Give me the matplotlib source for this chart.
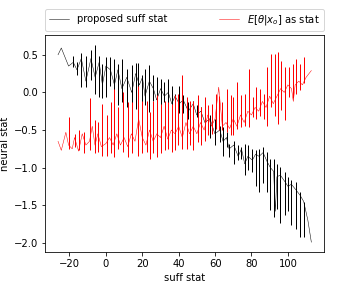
import numpy as np
import matplotlib
matplotlib.use('Agg')
import matplotlib.pyplot as plt

# thin trace of the proposed statistic
prop_x = [-26.3, -24.5, -20.5, -17.9, -15.9, -13.5, -11.0, -8.2, -5.9, -3.7, -1.9, 0.0,
          2.5, 4.7, 6.6, 8.8, 11.5, 14.2, 16.4, 18.4, 20.1, 21.5, 23.9, 26.1, 27.9, 30.1,
          32.1, 34.3, 36.2, 38.0, 40.3, 42.5, 45.3, 48.0, 49.9, 52.2, 54.4, 57.2, 59.9,
          62.6, 64.4, 66.3, 67.7, 70.3, 72.7, 74.5, 76.3, 78.0, 80.5, 82.3, 84.2, 86.4,
          88.6, 90.4, 92.2, 93.1, 94.0, 95.9, 98.2, 100.1, 101.9, 104.6, 106.8, 108.7,
          111.0, 112.9]
prop_y = [0.50, 0.59, 0.35, 0.40, 0.30, 0.45, 0.15, 0.45, 0.20, 0.40, 0.10, 0.35,
          0.30, 0.10, 0.30, 0.05, 0.20, 0.00, 0.25, 0.10, 0.20, -0.05, 0.15, 0.05, -0.10, 0.05,
          -0.05, 0.00, -0.15, -0.05, -0.15, -0.10, -0.25, -0.15, -0.30, -0.25, -0.40, -0.35, -0.55,
          -0.50, -0.65, -0.60, -0.75, -0.70, -0.85, -0.75, -0.95, -0.85, -0.90, -0.82, -0.85, -0.80,
          -0.92, -1.00, -1.05, -1.58, -1.12, -1.10, -1.18, -1.25, -1.22, -1.30, -1.37, -1.45,
          -1.70, -1.99]

# vertical spread of the proposed statistic
prop_sx = [-17.9, -15.9, -13.5, -11.0, -8.2, -5.9, -3.7, -1.9, 0.0, 2.5, 4.7, 6.6, 8.8,
           11.5, 14.2, 16.4, 17.9, 20.1, 21.5, 23.9, 26.1, 27.9, 30.1, 32.1, 34.3, 36.2,
           38.0, 40.3, 42.5, 45.3, 48.0, 49.9, 52.2, 54.4, 57.2, 59.9, 62.6, 64.4, 66.3,
           67.7, 70.3, 72.7, 74.5, 76.3, 78.0, 80.5, 82.3, 84.2, 86.4, 88.6, 90.4, 92.2,
           94.0, 95.9, 98.2, 100.1, 101.9, 104.6, 106.8, 108.7]
prop_lo = [0.34, 0.23, 0.07, 0.07, 0.16, -0.02, -0.06, -0.08, -0.06, 0.09, -0.04, -0.17, -0.13,
           -0.19, -0.15, -0.22, 0.00, -0.13, -0.17, -0.26, -0.11, -0.30, -0.17, -0.13, -0.19, -0.26,
           -0.22, -0.28, -0.28, -0.35, -0.24, -0.33, -0.53, -0.48, -0.61, -0.70, -0.66, -0.84, -0.73,
           -0.86, -0.95, -0.90, -0.88, -1.10, -1.03, -1.06, -1.25, -1.32, -1.21, -1.32, -1.56, -1.65,
           -1.55, -1.74, -1.63, -1.58, -1.76, -1.81, -1.92, -1.92]
prop_hi = [0.48, 0.41, 0.53, 0.49, 0.56, 0.63, 0.49, 0.38, 0.47, 0.47, 0.45, 0.38, 0.45,
           0.31, 0.36, 0.39, 0.39, 0.23, 0.31, 0.36, 0.23, 0.20, 0.18, 0.14, 0.18, 0.09,
           -0.02, 0.09, -0.04, -0.13, -0.11, -0.17, -0.19, -0.26, -0.30, -0.35, -0.44, -0.46, -0.53,
           -0.68, -0.64, -0.70, -0.72, -0.68, -0.70, -0.75, -0.77, -0.75, -0.72, -0.79, -0.88, -0.88,
           -0.95, -0.99, -1.06, -1.12, -1.17, -1.19, -1.32, -1.45]

# thin trace of E[theta|x_o]
post_x = [-26.3, -24.5, -22.0, -20.5, -18.5, -17.2, -15.0, -13.0, -11.0, -9.0, -7.5, -6.0,
          -4.4, -2.5, 0.0, 2.0, 4.0, 6.0, 8.0, 10.0, 12.0, 14.0, 16.0, 18.0, 20.0, 22.0,
          24.0, 26.0, 28.0, 30.0, 32.0, 34.0, 36.0, 38.0, 40.0, 42.0, 44.0, 46.0, 48.0,
          50.0, 52.0, 54.0, 56.0, 58.0, 60.0, 62.0, 64.0, 66.0, 68.0, 70.0, 72.0, 74.0,
          76.0, 78.0, 80.0, 82.0, 84.0, 86.0, 88.0, 90.0, 92.0, 94.0, 96.0, 98.0, 100.0,
          102.0, 103.0, 104.0, 106.0, 108.0, 110.0, 112.9]
post_y = [-0.65, -0.77, -0.53, -0.70, -0.75, -0.60, -0.78, -0.55, -0.70, -0.65, -0.45, -0.70,
          -0.55, -0.72, -0.68, -0.60, -0.70, -0.55, -0.70, -0.60, -0.72, -0.55, -0.65, -0.35, -0.60, -0.70,
          -0.50, -0.65, -0.55, -0.60, -0.45, -0.62, -0.50, -0.55, -0.45, -0.60, -0.40, -0.55, -0.45,
          -0.55, -0.40, -0.50, -0.30, -0.45, -0.35, 0.07, -0.45, -0.40, -0.48, -0.35, -0.45, -0.30,
          -0.40, -0.25, -0.30, -0.20, -0.25, -0.12, -0.20, -0.05, -0.15, -0.05, 0.05, 0.00, 0.10,
          0.05, -0.12, 0.10, 0.15, 0.10, 0.20, 0.29]

# vertical spread of E[theta|x_o]
post_sx = [-20.5, -17.2, -14.5, -12.3, -8.6, -6.2, -4.4, -1.9, 0.5, 2.7, 4.7, 6.9, 9.6,
           12.0, 14.6, 17.5, 20.1, 22.4, 24.3, 26.1, 27.9, 30.3, 32.5, 34.3, 36.1, 38.0,
           39.8, 42.0, 44.4, 46.2, 48.0, 50.4, 52.2, 54.4, 56.2, 58.1, 60.3, 62.1, 63.9,
           66.3, 68.7, 69.9, 72.3, 74.5, 76.3, 78.5, 80.9, 82.7, 84.5, 86.9, 88.7, 90.5,
           92.8, 94.6, 96.4, 98.6, 100.6, 102.8, 104.6, 106.4, 108.7]
post_lo = [-0.75, -0.73, -0.77, -0.81, -0.77, -0.81, -0.79, -0.84, -0.84, -0.81, -0.86, -0.75, -0.79,
           -0.86, -0.81, -0.84, -0.81, -0.79, -0.88, -0.81, -0.86, -0.81, -0.77, -0.75, -0.79, -0.77,
           -0.70, -0.75, -0.75, -0.70, -0.77, -0.66, -0.70, -0.64, -0.57, -0.55, -0.48, -0.50, -0.50,
           -0.53, -0.57, -0.57, -0.48, -0.46, -0.44, -0.46, -0.33, -0.35, -0.31, -0.35, -0.44, -0.20,
           -0.31, -0.42, -0.24, -0.37, -0.06, -0.08, -0.02, 0.03, 0.12]
post_hi = [-0.33, -0.55, -0.50, -0.53, -0.08, -0.37, -0.40, -0.15, -0.30, -0.13, 0.05, -0.19, 0.00,
           -0.13, -0.13, 0.09, -0.11, -0.11, -0.26, -0.11, -0.04, -0.15, -0.11, -0.13, -0.15, -0.04,
           -0.02, 0.23, -0.06, -0.11, -0.11, -0.04, -0.20, -0.06, -0.17, -0.15, -0.02, -0.05, -0.13,
           0.05, -0.04, -0.06, 0.14, -0.04, -0.02, 0.31, -0.06, 0.07, 0.05, -0.02, 0.34, 0.51,
           0.51, 0.54, 0.42, 0.34, 0.34, 0.38, 0.45, 0.38, 0.47]

fig = plt.figure(figsize=(5, 4), dpi=72)
ax = fig.add_axes([0.126, 0.125, 0.774, 0.753])

ax.vlines(prop_sx, prop_lo, prop_hi, color='k', lw=1.0)
ax.plot(prop_x, prop_y, color='k', lw=0.5, label='proposed suff stat')
ax.vlines(post_sx, post_lo, post_hi, color='r', lw=1.0)
ax.plot(post_x, post_y, color='r', lw=0.5, label=r'$E[\theta|x_o]$ as stat')

ax.set_xlabel('suff stat')
ax.set_ylabel('neural stat')
ax.set_xticks([-20, 0, 20, 40, 60, 80, 100])
ax.set_yticks([-2.0, -1.5, -1.0, -0.5, 0.0, 0.5])
ax.legend(bbox_to_anchor=(0., 1.02, 1., .102), loc='lower left', ncol=2,
          mode='expand', borderaxespad=0.)

fig.savefig('out.png', dpi=72)
